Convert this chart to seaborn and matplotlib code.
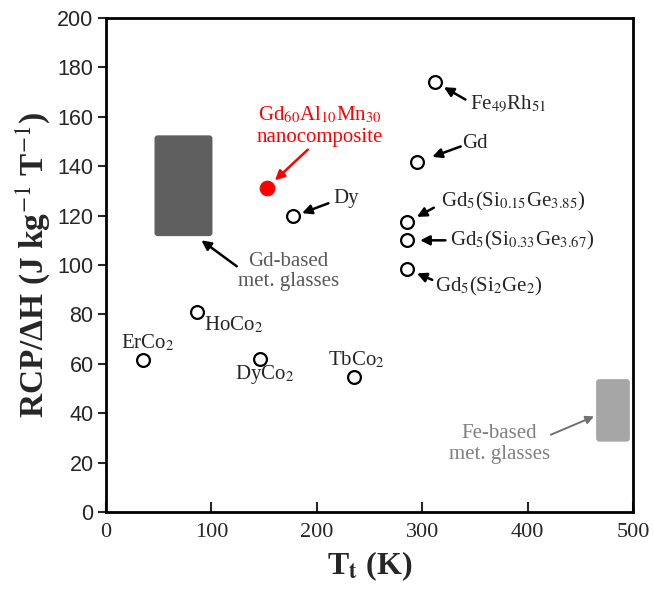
import matplotlib
matplotlib.use("Agg")
import matplotlib.pyplot as plt
import seaborn as sns
import pandas as pd
from matplotlib.patches import FancyBboxPatch

# reference compounds (open circles)
names = ["ErCo$_2$", "HoCo$_2$", "DyCo$_2$", "TbCo$_2$", "Dy", "Gd",
         "Fe$_{49}$Rh$_{51}$", "Gd$_5$(Si$_{0.15}$Ge$_{3.85}$)",
         "Gd$_5$(Si$_{0.33}$Ge$_{3.67}$)", "Gd$_5$(Si$_2$Ge$_2$)"]
t_trans = [35, 86, 146, 235, 177, 295, 312, 286, 286, 286]
rcp_dh = [61.5, 80.8, 61.8, 54.5, 120, 141.7, 174, 117.5, 110.2, 98.5]

# this work
nano_t = [153]
nano_rcp = [131]

# metallic glass ranges: (t_min, t_max, rcp_min, rcp_max)
gd_glass = (46, 101, 111.7, 152.5)
fe_glass = (465, 497, 28.5, 53.8)

x_ticks = [0, 100, 200, 300, 400, 500]
y_ticks = list(range(0, 201, 20))

# label placement: (x, y, ha) and arrows (tail, head), None = no arrow
label_pos = [(39.7, 68.4, "center"), (93, 75.8, "left"), (150.8, 55.6, "center"),
             (238, 61.6, "center"), (216, 127, "left"), (338, 149.2, "left"),
             (345, 165.5, "left"), (318, 125.6, "left"), (326, 110, "left"),
             (312, 91.2, "left")]
arrows = [None, None, None, None,
          ((211, 125), (186, 121)),
          ((336.5, 148), (309.5, 143.8)),
          ((341, 167), (320.6, 172)),
          ((311, 123.2), (295, 119.5)),
          ((322, 110), (298, 110)),
          ((309.5, 94), (295, 96.6))]

df = pd.DataFrame({"T": t_trans, "RCP": rcp_dh, "name": names})

sns.set_style("ticks")
plt.rcParams["font.family"] = ["Liberation Serif", "DejaVu Serif"]
plt.rcParams["mathtext.fontset"] = "stix"

fig = plt.figure(figsize=(6.54, 5.99), dpi=100)
ax = fig.add_axes([0.1621, 0.1452, 0.8058, 0.8247])

sns.scatterplot(data=df, x="T", y="RCP", ax=ax, s=85, marker="o",
                facecolor="white", edgecolor="black", linewidth=1.6, zorder=4)
sns.scatterplot(x=nano_t, y=nano_rcp, ax=ax, s=110, color="#ff0000",
                edgecolor="#ff0000", zorder=4)

aspect = (0.8247 * 599 / 200) / (0.8058 * 654 / 500)
for rng, col in [(gd_glass, "#5f5f5f"), (fe_glass, "#a6a6a6")]:
    ax.add_patch(FancyBboxPatch((rng[0], rng[2]), rng[1] - rng[0], rng[3] - rng[2],
                                boxstyle="round,pad=0,rounding_size=3",
                                mutation_aspect=1 / aspect,
                                facecolor=col, edgecolor="none", zorder=2))

arrow_kw = dict(arrowstyle="-|>", lw=1.8, mutation_scale=14, shrinkA=0, shrinkB=0)
for name, (lx, ly, ha), arr in zip(names, label_pos, arrows):
    ax.text(lx, ly, name, ha=ha, va="center", fontsize=15)
    if arr is not None:
        ax.annotate("", xy=arr[1], xytext=arr[0],
                    arrowprops=dict(color="black", **arrow_kw))

# nanocomposite label
ax.text(203, 160.6, "Gd$_{60}$Al$_{10}$Mn$_{30}$", color="#ff0000",
        ha="center", va="center", fontsize=15)
ax.text(203, 151.8, "nanocomposite", color="#ff0000",
        ha="center", va="center", fontsize=15)
ax.annotate("", xy=(160.3, 134.3), xytext=(191.4, 146.7),
            arrowprops=dict(color="#ff0000", **arrow_kw))

# glass labels
ax.text(173, 97.4, "Gd-based\nmet. glasses", color="#595959",
        ha="center", va="center", fontsize=15, linespacing=1.1)
ax.annotate("", xy=(90.5, 110), xytext=(124, 99.5),
            arrowprops=dict(color="black", **arrow_kw))
ax.text(373, 27.5, "Fe-based\nmet. glasses", color="#808080",
        ha="center", va="center", fontsize=15, linespacing=1.1)
ax.annotate("", xy=(463, 38.7), xytext=(422, 31.3),
            arrowprops=dict(color="#707070", arrowstyle="-|>", lw=1.4,
                            mutation_scale=12, shrinkA=0, shrinkB=0))

ax.set_xlim(0, 500)
ax.set_ylim(0, 200)
ax.set_xticks(x_ticks)
ax.set_yticks(y_ticks)
ax.set_xticklabels([str(v) for v in x_ticks], fontsize=16,
                   family=["Liberation Serif"])
ax.set_yticklabels([str(v) for v in y_ticks], fontsize=15.5,
                   family=["Liberation Sans"])
ax.tick_params(axis="x", direction="in", length=7, width=1.5, pad=8)
ax.tick_params(axis="y", direction="out", length=6, width=1.5, pad=3)
for sp in ax.spines.values():
    sp.set_visible(True)
    sp.set_linewidth(2)
    sp.set_color("black")

ax.set_xlabel("T$_\\mathbf{t}$ (K)", fontsize=23, fontweight="bold", labelpad=5)
ax.set_ylabel("RCP/\u0394H (J kg$^{-1}$ T$^{-1}$)",
              fontsize=24, fontweight="bold", labelpad=4)

fig.savefig("out.png", dpi=100)
